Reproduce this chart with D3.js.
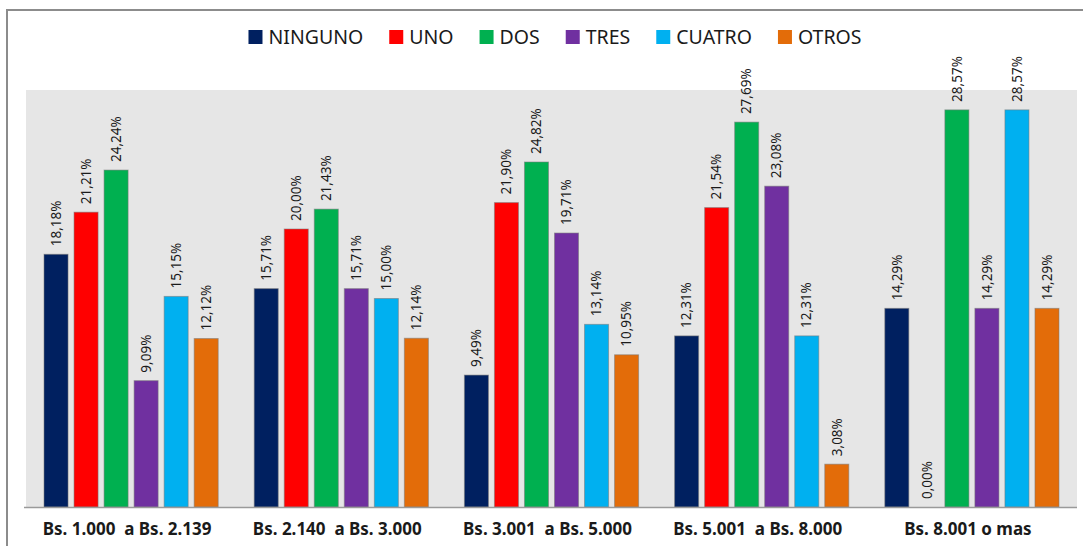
<!DOCTYPE html>
<html>
<head>
<meta charset="utf-8">
<script src="https://cdn.jsdelivr.net/npm/d3@7"></script>
<style>
  html, body { margin: 0; padding: 0; background: #fff; }
  svg { display: block; font-family: "Noto Sans", "Open Sans", sans-serif; }
</style>
</head>
<body>
<svg id="chart" width="1083" height="546"></svg>
<script>
// Income ranges (categories) and share per number of dependents
const categories = ["Bs. 1.000  a Bs. 2.139", "Bs. 2.140  a Bs. 3.000", "Bs. 3.001  a Bs. 5.000", "Bs. 5.001  a Bs. 8.000", "Bs. 8.001 o mas"];
const seriesNames = ["NINGUNO", "UNO", "DOS", "TRES", "CUATRO", "OTROS"];
const ninguno = [18.18, 15.71, 9.49, 12.31, 14.29];
const uno     = [21.21, 20.00, 21.90, 21.54, 0.00];
const dos     = [24.24, 21.43, 24.82, 27.69, 28.57];
const tres    = [9.09, 15.71, 19.71, 23.08, 14.29];
const cuatro  = [15.15, 15.00, 13.14, 12.31, 28.57];
const otros   = [12.12, 12.14, 10.95, 3.08, 14.29];
const colors  = ["#002060", "#FF0000", "#00B050", "#7030A0", "#00B0F0", "#E36C09"];

const seriesValues = [ninguno, uno, dos, tres, cuatro, otros];
const svg = d3.select("#chart");

// Outer frame
svg.append("path")
  .attr("d", "M7,546 V10 H1083")
  .attr("fill", "none")
  .attr("stroke", "#8c8c8c")
  .attr("stroke-width", 2);

const plot = { left: 26, right: 1077, top: 90, bottom: 507 };

const x0 = d3.scaleBand().domain(categories).range([plot.left, plot.right]).paddingInner(0).paddingOuter(0);
const x1 = d3.scaleBand().domain(seriesNames).range([15, x0.bandwidth() - 15]).padding(0.2).paddingOuter(0.1);
const y = d3.scaleLinear().domain([0, 30]).range([plot.bottom, plot.top]);
const color = d3.scaleOrdinal().domain(seriesNames).range(colors);

// Plot background
svg.append("rect")
  .attr("x", plot.left).attr("y", plot.top)
  .attr("width", plot.right - plot.left).attr("height", plot.bottom - plot.top)
  .attr("fill", "#e6e6e6");

const rows = categories.map((c, i) => ({
  category: c,
  values: seriesNames.map((s, j) => ({ series: s, value: seriesValues[j][i] }))
}));

const groups = svg.append("g").selectAll("g")
  .data(rows).join("g")
  .attr("transform", d => `translate(${x0(d.category)},0)`);

groups.selectAll("rect")
  .data(d => d.values.filter(v => v.value > 0))
  .join("rect")
  .attr("x", d => x1(d.series))
  .attr("y", d => y(d.value))
  .attr("width", x1.bandwidth())
  .attr("height", d => y(0) - y(d.value))
  .attr("fill", d => color(d.series))
  .attr("stroke", "rgba(120,120,120,0.55)")
  .attr("stroke-width", 1);

const fmt = v => v.toFixed(2).replace(".", ",") + "%";

groups.selectAll("text.val")
  .data(d => d.values)
  .join("text")
  .attr("class", "val")
  .attr("transform", d => `translate(${x1(d.series) + x1.bandwidth() / 2},${y(d.value) - 8}) rotate(-90)`)
  .attr("dy", "0.35em")
  .attr("font-size", 13.5)
  .attr("fill", "#1a1a1a")
  .text(d => fmt(d.value));

// Category axis
const xAxis = svg.append("g")
  .attr("transform", `translate(-4,${plot.bottom})`)
  .call(d3.axisBottom(x0).tickSize(0).tickPadding(16));
xAxis.select(".domain").attr("stroke", "#9a9a9a").attr("stroke-width", 1.5)
  .attr("d", `M${plot.left + 2},0.5H${plot.right + 4}`);
xAxis.selectAll("text")
  .attr("font-size", 17)
  .attr("font-weight", "bold")
  .attr("fill", "#1a1a1a")
  .attr("font-family", "'Noto Sans', sans-serif")
  .style("white-space", "pre");

// Legend
const legend = svg.append("g");
let cursor = 0;
const gap = 26;
seriesNames.forEach((s, i) => {
  const item = legend.append("g").attr("transform", `translate(${cursor},0)`);
  item.append("rect").attr("x", 0).attr("y", -7).attr("width", 14).attr("height", 14).attr("fill", color(s));
  const t = item.append("text").attr("x", 20).attr("dy", "0.36em")
    .attr("font-size", 19.5).attr("fill", "#1a1a1a").text(s);
  cursor += 20 + t.node().getComputedTextLength() + gap;
});
const legendWidth = cursor - gap;
legend.attr("transform", `translate(${555 - legendWidth / 2},37)`);
</script>
</body>
</html>
